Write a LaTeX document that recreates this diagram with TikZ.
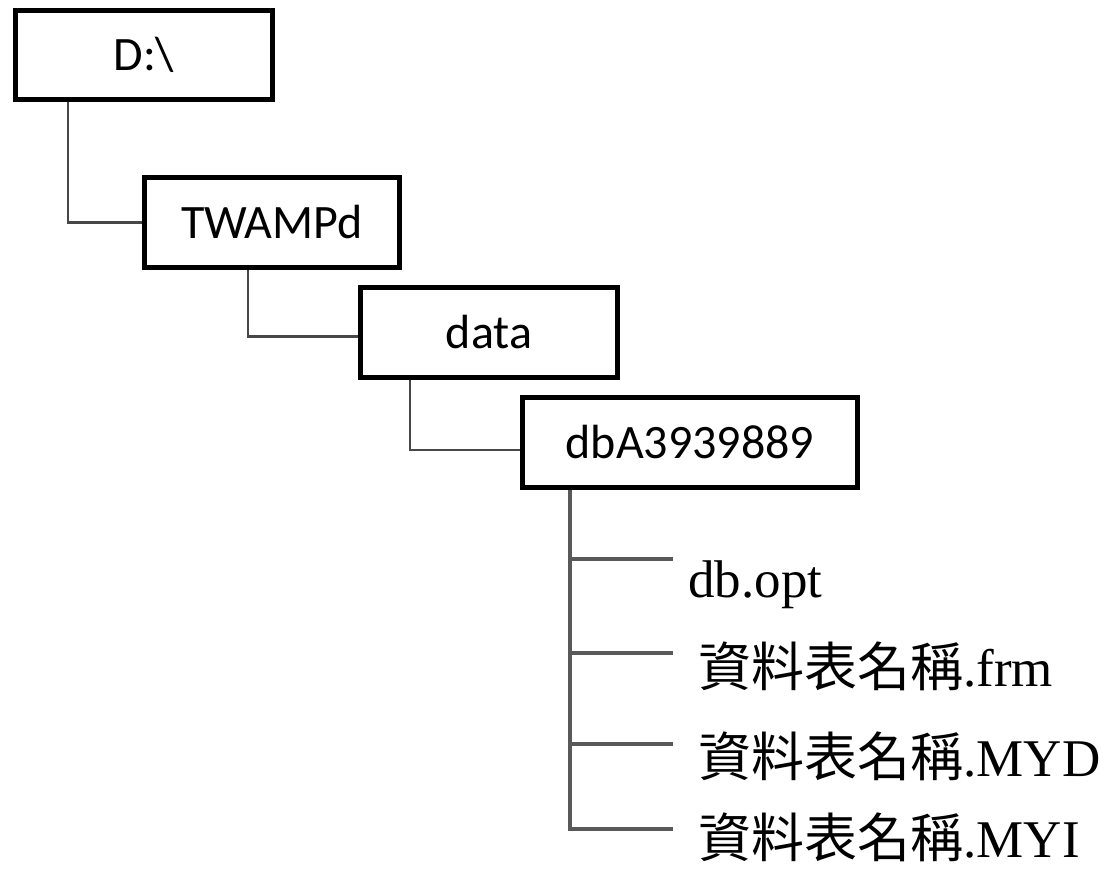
\documentclass[tikz,border=0pt]{standalone}
\usepackage{fontspec}
\setmainfont{Carlito}
\newfontfamily\tnr{Liberation Serif}
\newfontfamily\cjk{Noto Sans CJK TC}
\begin{document}
\begin{tikzpicture}[x=0.5pt,y=-0.5pt,
  box/.style={draw=black, line width=2.5pt, rectangle, inner sep=0pt,
    minimum height=45pt, font=\fontsize{24}{28}\selectfont},
  conn/.style={draw=black!72, line width=1.2pt},
  branch/.style={draw=black!65, line width=1.6pt},
  file/.style={anchor=base west, inner sep=0pt, font=\fontsize{26.5}{32}\selectfont}]
\useasboundingbox (0,0) rectangle (1108,871);
% folders
\node[box, minimum width=128.5pt, minimum height=44.5pt] (root) at (144,55) {D:\textbackslash};
\node[box, minimum width=127.5pt] (twampd) at (272,222.5) {TWAMPd};
\node[box, minimum width=128.5pt] (data) at (489,332.5) {data};
\node[box, minimum width=167.5pt] (dba) at (690,442.5) {dbA3939889};
% files
\node[file] (f1) at (688,597) {\tnr db.opt};
\node[file] (f2) at (698,686) {{\cjk 資料表名稱}\tnr .frm};
\node[file] (f3) at (698,776) {{\cjk 資料表名稱}\tnr .MYD};
\node[file] (f4) at (698,857) {{\cjk 資料表名稱}\tnr .MYI};
% connector columns
\coordinate (x1) at (68,0);
\coordinate (x2) at (248,0);
\coordinate (x3) at (410,0);
% folder connectors
\draw[conn] (root.south -| x1) |- (twampd.west);
\draw[conn] (twampd.south -| x2) |- ([yshift=-2pt]data.west);
\draw[conn] (data.south -| x3) |- ([yshift=-3.75pt]dba.west);
% file tree
\coordinate (b1) at (570,559);
\coordinate (b2) at (570,653);
\coordinate (b3) at (570,744);
\coordinate (b4) at (570,829);
\coordinate (e1) at (673,559);
\coordinate (e2) at (673,653);
\coordinate (e3) at (673,744);
\coordinate (e4) at (673,829);
\draw[branch] (dba.south -| b1) -- ([yshift=-1pt]b4);
\draw[branch] (b1) -- (e1);
\draw[branch] (b2) -- (e2);
\draw[branch] (b3) -- (e3);
\draw[branch] (b4) -- (e4);
\end{tikzpicture}
\end{document}
